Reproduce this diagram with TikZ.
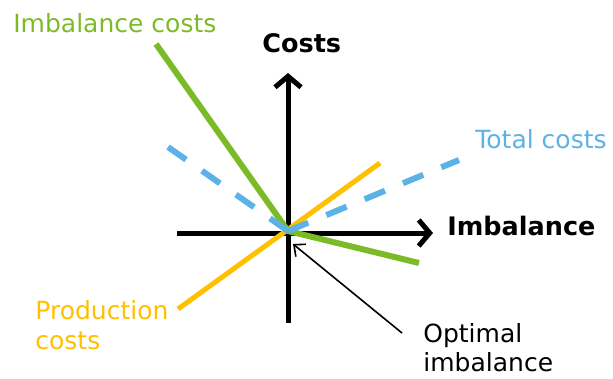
\documentclass[tikz,border=0pt]{standalone}
\usepackage{fontspec}
\setmainfont{DejaVu Sans}
\usetikzlibrary{arrows.meta}
\definecolor{imbgreen}{RGB}{124,187,40}
\definecolor{prodorange}{RGB}{255,192,0}
\definecolor{totblue}{RGB}{92,178,230}
\tikzset{every picture/.style={line width=0.75pt},
  axis/.style={line width=5pt,-{Straight Barb[length=11pt,width=26pt]}},
  pointer/.style={line width=1.6pt,-{Straight Barb[length=9pt,width=16pt]}},
  lbl/.style={inner sep=0pt,font=\fontsize{25}{29}\selectfont,align=left},
  bold lbl/.style={lbl,font=\fontsize{25.5}{30}\selectfont\bfseries},
  total/.style={totblue,line width=6pt,dash pattern={on 22pt off 19.5pt}},
}

\begin{document}
\begin{tikzpicture}[x=1pt,y=1pt,yscale=-1]
\useasboundingbox (0,0) rectangle (613,378);

% Points
\coordinate (O) at (288,233);
\coordinate (K) at (288,231);
\coordinate (xl) at (177,233);
\coordinate (xr) at (433,233);
\coordinate (yb) at (288,323);
\coordinate (yt) at (288,73);

%Shape: Axes
\draw [axis] (xl) -- (xr);
\draw [axis] (yb) -- (yt);

%Straight Lines: production costs
\draw [prodorange,line width=5pt] (178,309) -- (380,163);
%Straight Lines: imbalance costs
\draw [imbgreen,line width=6pt] (156,44) -- (K) -- (419,263);
%Straight Lines: total costs
\draw [total] (K) -- (168,147);
\draw [total] (K) -- (459,160);

% Text Node
\node (imbcost) [lbl,anchor=base west,text=imbgreen] at (13,32) {Imbalance costs};
% Text Node
\node (ylabel) [bold lbl,anchor=base west] at (262,52) {Costs};
% Text Node
\node (totcost) [lbl,anchor=base west,text=totblue] at (475,148) {Total costs};
% Text Node
\node (xlabel) [bold lbl,anchor=base west] at (447,235) {Imbalance};
% Text Node
\node (prodcost) [lbl,anchor=north west,text=prodorange,font=\fontsize{25}{30}\selectfont] at (35,300) {Production\\costs};
% Text Node
\node (optimal) [lbl,anchor=north west] at (423,323) {Optimal\\imbalance};

%Straight Lines: pointer
\coordinate (ptail) at (402,333);
\coordinate (phead) at (293,244);
\draw [pointer] (ptail) -- (phead);

\end{tikzpicture}
\end{document}
